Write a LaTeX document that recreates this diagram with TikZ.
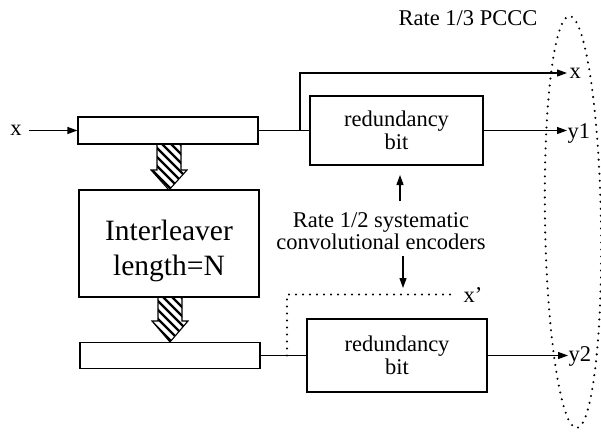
\documentclass[tikz,border=0pt]{standalone}
\usepackage{fontspec}
\setmainfont{Liberation Serif}
\usetikzlibrary{arrows.meta,calc}
\newcommand{\hatcharr}[4]{%
  \begin{scope}
    \path[clip] (#1-12,#2) -- (#1+12,#2) -- (#1+12,#3) -- (#1+18,#3) -- (#1,#4) -- (#1-18,#3) -- (#1-12,#3) -- cycle;
    \foreach \k in {-81,-72,...,36} \draw[line width=2.3pt] (#1+\k,#2-2) -- ++(75,75);
  \end{scope}
  \draw[line width=1.1pt, line join=miter] (#1-12,#2) -- (#1-12,#3) -- (#1-18,#3) -- (#1,#4) -- (#1+18,#3) -- (#1+12,#3) -- (#1+12,#2);
}
\begin{document}
\begin{tikzpicture}[x=1pt,y=-1pt,
  line width=1.2pt,
  txt/.style={font=\fontsize{22.5}{23}\selectfont, inner sep=0pt},
  box/.style={draw, inner sep=0pt, align=center, font=\fontsize{22.5}{23}\selectfont},
  arr/.style={-{Triangle[length=10pt,width=7pt]}},
  dots/.style={line width=2.3pt, dash pattern=on 0pt off 7pt, line cap=round}]
\useasboundingbox (0,0) rectangle (601,431);
% registers and boxes
\node[box, minimum width=180pt, minimum height=27pt] (reg1) at (168,130.5) {};
\node[box, minimum width=180pt, minimum height=107pt] (intl) at (169,243.5) {};
\node[txt, align=center, font=\fontsize{29.5}{35}\selectfont] (intlt) at (169,251) {Interleaver\\length=N};
\node[box, minimum width=180pt, minimum height=26pt] (reg2) at (170,355.5) {};
\node[box, minimum width=173pt, minimum height=69pt] (rb1) at (396.5,130.5) {redundancy\\bit};
\node[box, minimum width=180pt, minimum height=73pt] (rb2) at (397,355.5) {redundancy\\bit};
% hatched arrows
\hatcharr{169}{144}{170}{190}
\hatcharr{170}{297}{321}{342}
% labels
\node[txt] (xin) at (16,130.5) {x};
\node[txt, anchor=west] (xo) at (569,73) {x};
\node[txt, anchor=base west] (y1) at (567,138) {y1};
\node[txt, anchor=base west] (y2) at (568,361) {y2};
\node[txt, anchor=base west] (xp) at (463,302) {x’};
\node[txt, anchor=base] (pccc) at (468,25) {Rate 1/3 PCCC};
\node[txt, align=center, font=\fontsize{22.5}{22}\selectfont] (lab) at (381,231.5) {Rate 1/2 systematic\\convolutional encoders};
% connectors
\draw[arr, shorten <=7pt] (xin.east) -- (reg1.west);
\coordinate (j1) at (300,130.5);
\draw (reg1.east) -- (rb1.west);
\draw[arr] (j1) |- ([xshift=-2pt]xo.west);
\draw[arr] (rb1.east) -- (rb1.east -| y1.west);
\draw (reg2.east) -- (rb2.west);
\draw[arr] (rb2.east) -- (rb2.east -| y2.west);
\coordinate (j2) at (287,355.5);
\draw[dots] (j2) |- ([xshift=-11pt]xp.west);
\coordinate (ua) at (400,201);
\coordinate (ub) at (400,175);
\draw[arr] (ua) -- (ub);
\coordinate (da) at (403,256);
\coordinate (db) at (403,288);
\draw[arr] (da) -- (db);
% PCCC ellipse
\draw[dots, rotate around={1:(573,222)}] (573,222) ellipse [x radius=28, y radius=206];
\end{tikzpicture}
\end{document}
